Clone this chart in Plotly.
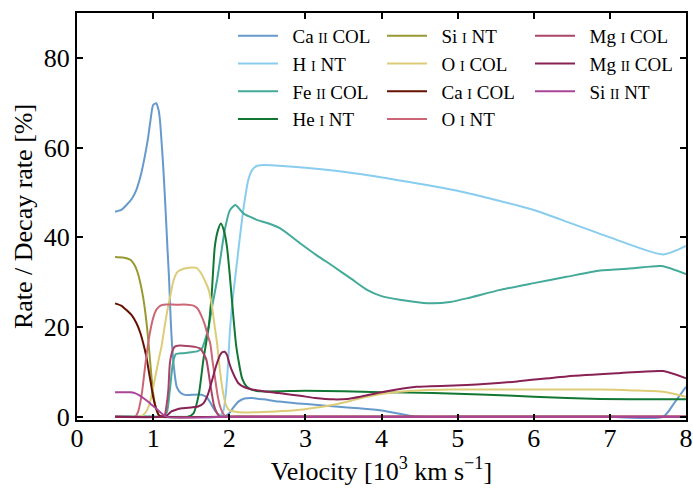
import plotly.graph_objects as go

# ---------------- data (velocity in 10^3 km/s, rate in %) ----------------
ca2_col_v = [0.5,0.58,0.65,0.72,0.78,0.84,0.89,0.93,0.96,1.0,1.04,1.07,1.09,1.11,1.13,1.15,1.17,1.19,1.21,1.23,1.25,1.28,1.31,1.36,1.42,1.5,1.6,1.66,1.7,1.74,1.78,1.82,1.86,1.9,1.95,2.0,2.05,2.12,2.2,2.3,2.45,2.65,2.9,3.13,3.4,3.7,4.0,4.2,4.35,4.5,5.0,6.0,7.0,7.7,7.85,8.0]
ca2_col_r = [45.7,46.1,47.2,48.6,50.6,54.0,58.0,61.8,65.4,69.5,69.9,68.5,66.1,61.5,56.5,50.5,43.9,37.0,30.5,22.0,15.7,10.0,6.7,5.4,4.9,4.9,5.0,4.8,4.4,3.5,2.3,1.2,0.5,0.2,0.2,0.8,2.0,3.4,4.1,4.2,3.9,3.4,3.0,2.7,2.3,1.9,1.4,0.8,0.3,0.0,0.0,0.0,0.0,0.0,3.2,6.7]

h1_nt_v = [0.5,1.0,1.5,1.85,1.92,1.97,2.01,2.05,2.1,2.15,2.19,2.25,2.3,2.36,2.45,2.6,3.0,3.5,4.2,5.0,6.0,6.35,7.0,7.7,8.0]
h1_nt_r = [0,0,0,0,1.2,8.2,19.4,27.0,34.2,41.5,46.8,52.8,55.0,55.9,56.1,56.0,55.5,54.6,52.8,50.4,46.1,44.0,40.0,36.2,38.1]

fe2_col_v = [0.5,1.0,1.12,1.18,1.22,1.26,1.3,1.4,1.5,1.58,1.64,1.68,1.73,1.78,1.84,1.89,1.94,2.01,2.08,2.14,2.19,2.27,2.36,2.5,2.67,2.93,3.15,3.37,3.6,3.81,4.0,4.24,4.5,4.68,4.9,5.12,5.56,6.0,6.43,6.87,7.3,7.68,8.0]
fe2_col_r = [0,0,0,1.0,6.0,12.0,14.0,14.2,14.4,14.6,15.2,17.0,20.1,25.0,30.5,36.0,41.6,46.1,47.2,46.2,45.3,44.6,43.9,43.2,42.0,38.7,36.0,33.5,30.8,28.3,26.9,26.1,25.5,25.3,25.6,26.4,28.3,29.8,31.2,32.6,33.1,33.6,31.8]

he1_nt_v = [0.5,1.0,1.45,1.53,1.6,1.66,1.73,1.77,1.81,1.85,1.89,1.93,1.97,2.01,2.05,2.09,2.12,2.17,2.23,2.3,2.4,3.0,3.5,4.0,4.68,5.3,6.0,6.87,7.7,8.0]
he1_nt_r = [0,0,0,0.8,5.0,12.7,20.1,27.5,37.9,41.5,43.1,41.5,37.9,31.0,23.1,16.0,12.7,8.5,6.7,6.0,5.7,5.8,5.7,5.5,5.3,5.0,4.5,4.0,3.9,3.9]

si1_nt_v = [0.5,0.6,0.66,0.71,0.75,0.79,0.83,0.87,0.91,0.94,0.97,1.0,1.04,1.08,1.15,2.0,8.0]
si1_nt_r = [35.6,35.5,35.3,34.9,34.0,32.5,30.0,26.5,21.5,16.4,10.5,5.3,1.8,0.2,0,0,0]

o1_col_v = [0.5,0.8,0.86,0.92,0.97,1.02,1.07,1.11,1.15,1.18,1.22,1.27,1.32,1.4,1.5,1.57,1.63,1.69,1.73,1.77,1.81,1.84,1.88,1.92,1.96,2.0,2.1,2.3,2.6,2.93,3.15,3.37,3.6,3.81,4.0,4.24,4.5,4.9,5.5,6.0,6.87,7.3,7.7,8.0]
o1_col_r = [0,0,0.3,1.5,4.0,8.2,12.5,15.7,20.0,23.1,26.5,30.5,32.3,33.0,33.3,33.2,32.0,30.0,28.3,25.0,20.0,16.4,10.0,5.3,2.5,1.5,1.1,1.0,1.2,1.6,2.1,2.7,3.6,4.5,5.1,5.6,5.9,6.1,6.1,6.1,6.1,5.9,5.6,4.5]

ca1_col_v = [0.5,0.58,0.65,0.72,0.78,0.83,0.87,0.91,0.94,0.97,1.0,1.04,1.08,1.15,2.0,8.0]
ca1_col_r = [25.3,24.8,23.8,22.6,20.9,18.8,16.4,13.5,10.5,7.5,4.5,1.8,0.3,0,0,0]

o1_nt_v = [0.5,0.7,0.76,0.8,0.85,0.9,0.95,1.0,1.04,1.08,1.13,1.3,1.45,1.53,1.58,1.64,1.68,1.72,1.75,1.78,1.81,1.85,1.88,1.92,1.96,2.1,8.0]
o1_nt_r = [0,0,0,1.0,5.0,12.0,18.0,22.0,23.8,24.6,25.0,25.0,25.0,24.8,24.2,22.3,20.5,18.0,16.4,12.5,9.0,4.5,2.3,0.7,0,0,0]

mg1_col_v = [0.5,1.1,1.15,1.18,1.2,1.22,1.25,1.28,1.35,1.45,1.55,1.62,1.66,1.7,1.74,1.77,1.8,1.84,1.88,2.0,8.0]
mg1_col_r = [0,0,0.3,3.0,6.0,11.9,14.5,15.6,15.9,15.8,15.6,15.2,14.2,12.7,8.5,5.3,2.5,0.8,0,0,0]

mg2_col_v = [0.5,1.1,1.18,1.24,1.3,1.38,1.5,1.59,1.66,1.72,1.78,1.83,1.88,1.91,1.94,1.97,2.0,2.03,2.07,2.12,2.2,2.3,2.45,2.65,2.93,3.13,3.37,3.55,3.72,4.03,4.46,5.12,5.78,6.43,7.09,7.7,8.0]
mg2_col_r = [0,0,0.3,1.2,1.6,1.9,2.1,2.3,3.0,5.0,8.5,11.5,13.8,14.4,14.5,13.8,12.0,10.5,9.0,7.5,6.6,6.1,5.7,5.3,4.7,4.2,3.9,4.0,4.5,5.6,6.7,7.1,7.9,9.0,9.7,10.2,8.6]

si2_nt_v = [0.5,0.6,0.7,0.76,0.82,0.88,0.94,1.0,1.05,1.09,1.13,1.18,2.0,8.0]
si2_nt_r = [5.5,5.5,5.5,5.3,4.8,4.1,3.3,2.4,1.7,1.1,0.5,0,0,0]

x_ticks = [0, 1, 2, 3, 4, 5, 6, 7, 8]
y_ticks = [0, 20, 40, 60, 80]

SC = "<span style='font-size:14px'>{}</span>"
PAD = "\u2002"
series = [
    ("Ca " + SC.format("II") + " COL", ca2_col_v, ca2_col_r, "#6699CC", "legend"),
    ("H " + SC.format("I") + " NT", h1_nt_v, h1_nt_r, "#88CCEE", "legend"),
    ("Fe " + SC.format("II") + " COL", fe2_col_v, fe2_col_r, "#44AA99", "legend"),
    ("He " + SC.format("I") + " NT", he1_nt_v, he1_nt_r, "#117733", "legend"),
    ("Si " + SC.format("I") + " NT", si1_nt_v, si1_nt_r, "#999933", "legend2"),
    ("O " + SC.format("I") + " COL", o1_col_v, o1_col_r, "#DDCC77", "legend2"),
    ("Ca " + SC.format("I") + " COL", ca1_col_v, ca1_col_r, "#661100", "legend2"),
    ("O " + SC.format("I") + " NT", o1_nt_v, o1_nt_r, "#CC6677", "legend2"),
    ("Mg " + SC.format("I") + " COL", mg1_col_v, mg1_col_r, "#AA4466", "legend3"),
    ("Mg " + SC.format("II") + " COL", mg2_col_v, mg2_col_r, "#882255", "legend3"),
    ("Si " + SC.format("II") + " NT", si2_nt_v, si2_nt_r, "#AA4499", "legend3"),
]

fig = go.Figure()
for name, xv, yv, col, leg in series:
    fig.add_trace(go.Scatter(
        x=xv, y=yv, mode="lines", name=PAD + name, legend=leg,
        line=dict(color=col, width=2, shape="spline", smoothing=0.6),
    ))

FONT = "Liberation Serif"
W, H = 693, 490
ml, mr, mt, mb = 77, 7, 13, 70
pw, ph = W - ml - mr, H - mt - mb

def lx(px):
    return (px - ml) / pw

def ly(py):
    return (H - mb - py) / ph

leg_common = dict(bgcolor="rgba(0,0,0,0)", borderwidth=0, xanchor="left", yanchor="top",
                  font=dict(family=FONT, size=19, color="black"), itemwidth=40,
                  tracegroupgap=0)

fig.update_layout(
    width=W, height=H,
    margin=dict(l=ml, r=mr, t=mt, b=mb, autoexpand=False),
    paper_bgcolor="white", plot_bgcolor="white",
    font=dict(family=FONT, size=26, color="black"),
    showlegend=True,
    legend=dict(x=lx(233), y=ly(17), **leg_common),
    legend2=dict(x=lx(382), y=ly(17), **leg_common),
    legend3=dict(x=lx(530), y=ly(17), **leg_common),
    xaxis=dict(
        range=[0, 8], tickvals=x_ticks, ticktext=[str(t) for t in x_ticks],
        automargin=False, ticklabelstandoff=-6,
        showgrid=False, zeroline=False, showline=True, linecolor="black", linewidth=2,
        mirror="ticks", ticks="inside", ticklen=6, tickwidth=1.5, tickcolor="black",
        tickfont=dict(family=FONT, size=26),
        title=dict(text="Velocity [10<sup>3</sup> km s<sup>\u22121</sup>]",
                   font=dict(family=FONT, size=26), standoff=8),
    ),
    yaxis=dict(
        range=[-0.7, 90], tickvals=y_ticks, ticktext=[str(t) for t in y_ticks],
        automargin=False,
        showgrid=False, zeroline=False, showline=True, linecolor="black", linewidth=2,
        mirror="ticks", ticks="inside", ticklen=6, tickwidth=1.5, tickcolor="black",
        tickfont=dict(family=FONT, size=26),
        title=dict(text="Rate / Decay rate [%]", font=dict(family=FONT, size=26), standoff=4),
    ),
)

fig.write_html("out.html")
